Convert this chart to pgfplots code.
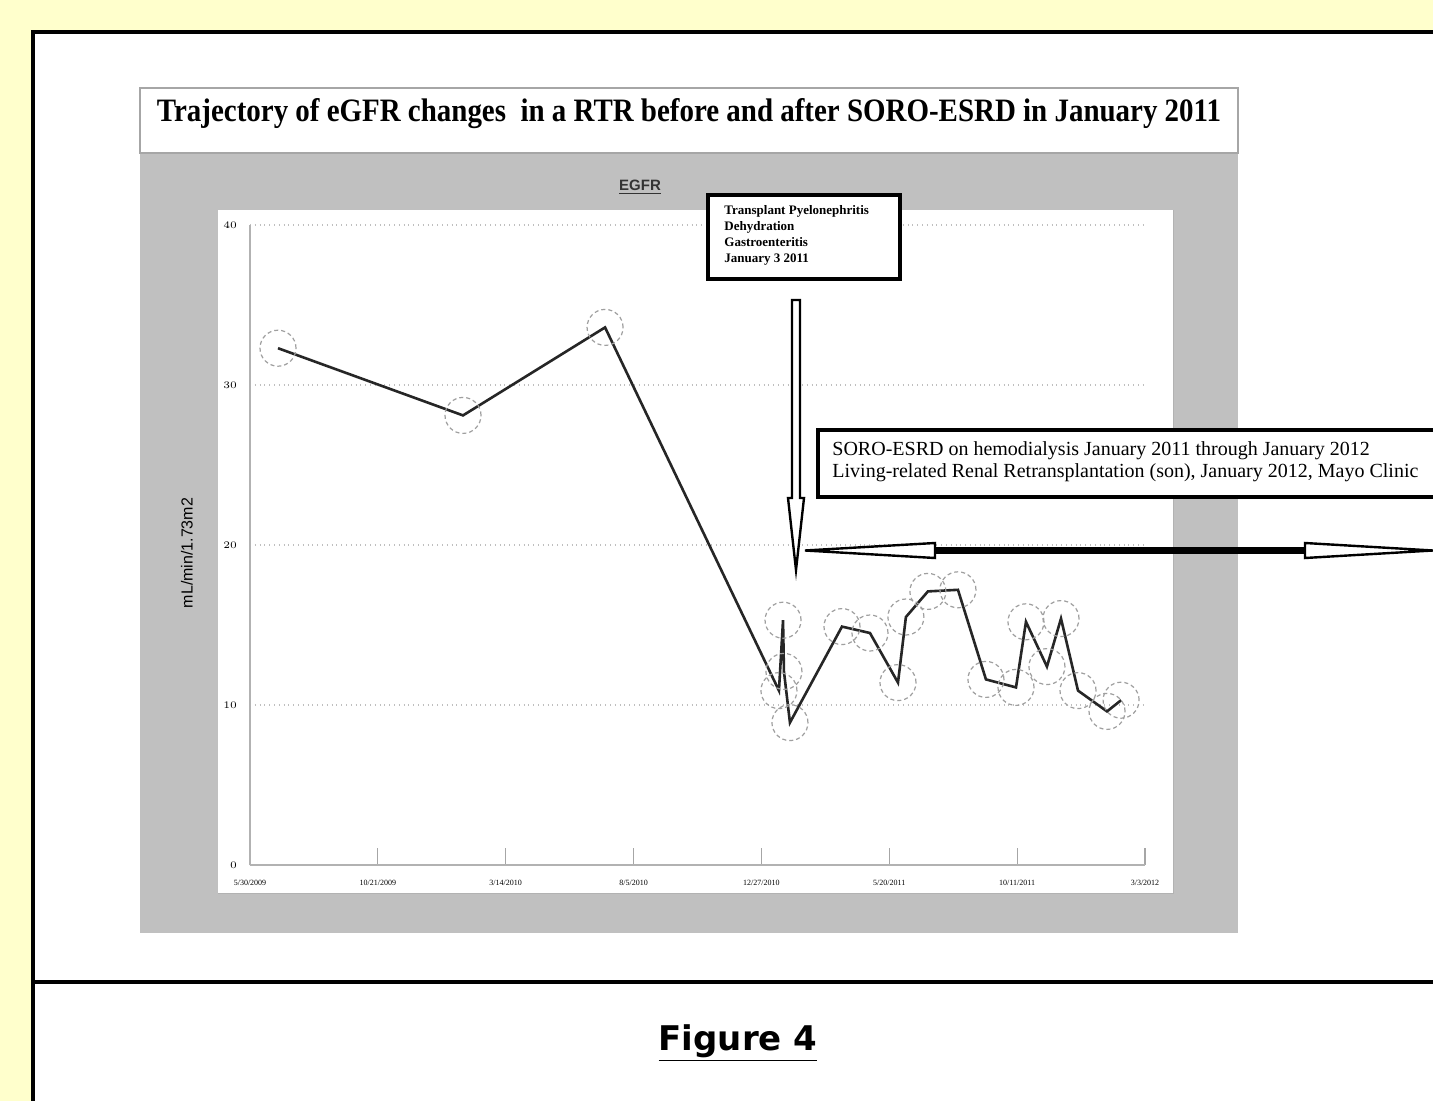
\documentclass[border=0pt]{standalone}
\usepackage{pgfplots}
\pgfplotsset{compat=1.18}
\usepackage{fontspec}
\setmainfont{Liberation Serif}
\newfontfamily\lsans{Liberation Sans}
\newfontfamily\dejavu{DejaVu Sans}
\definecolor{bgyellow}{HTML}{FFFFCC}
\definecolor{panelgray}{HTML}{C0C0C0}
\begin{document}
\begin{tikzpicture}[x=0.5pt,y=-0.5pt]
\useasboundingbox (0,0) rectangle (1433,1101);
\clip (0,0) rectangle (1433,1101);
% background
\fill[bgyellow] (0,0) rectangle (1433,1101);
\fill[white] (33,30) rectangle (1440,1110);
\draw[black,line width=2pt] (33,1110) -- (33,32) -- (1440,32);
\draw[black,line width=2pt] (33,982) -- (1440,982);
% panel
\fill[panelgray] (140,153) rectangle (1238,933);
\draw[gray!70,fill=white,line width=0.6pt] (140,88) rectangle (1238,153);
\node at (689,114) {\resizebox{532pt}{11.5pt}{\bfseries Trajectory of eGFR changes\ \ in a RTR before and after SORO-ESRD in January 2011}};
\fill[white] (218,210) rectangle (1173,893);
\draw[gray!60,line width=0.4pt] (218,893) -- (1173,893) -- (1173,210);
\node[font={\lsans\bfseries\fontsize{7.5}{8}\selectfont}, text=black!80] at (640,187) {\underline{EGFR}};
\coordinate (axorig) at (250,865);
% axis
\begin{axis}[
  at={(axorig)}, anchor=south west,
  scale only axis, width=447.5pt, height=320pt,
  xmin=0, xmax=7, ymin=0, ymax=40,
  axis x line=bottom, axis y line=left,
  axis line style={gray!60, line width=0.6pt, -},
  xtick={0,1,2,3,4,5,6,7},
  xticklabels={5/30/2009,10/21/2009,3/14/2010,8/5/2010,12/27/2010,5/20/2011,10/11/2011,3/3/2012},
  ytick={0,10,20,30,40},
  tick align=inside,
  major tick length=8.5pt,
  xtick style={draw=gray!70, line width=0.6pt},
  ytick style={draw=none},
  ymajorgrids,
  grid style={gray!50, dotted, line width=0.6pt},
  x tick label style={font={\fontsize{4}{4}\selectfont}, yshift=-4pt},
  y tick label style={font={\fontsize{4}{4}\selectfont}, xshift=-3pt},
  ylabel={mL/min/1.73m2},
  ylabel style={font={\lsans\fontsize{8}{8}\selectfont}, at={(axis description cs:-0.0704,0.4875)}, anchor=center},
  clip=false,
]
\addplot[black!85, line width=1.3pt,
  mark=o, mark size=9pt,
  mark options={solid, gray!75, line width=0.6pt, dash pattern=on 2pt off 1.5pt}]
coordinates {
(0.219,32.3)
(1.666,28.1)
(2.777,33.6)
(4.137,10.9)
(4.169,15.3)
(4.176,12.1)
(4.223,8.9)
(4.630,14.9)
(4.849,14.5)
(5.068,11.4)
(5.130,15.5)
(5.302,17.1)
(5.537,17.2)
(5.756,11.6)
(5.991,11.1)
(6.069,15.2)
(6.233,12.4)
(6.343,15.4)
(6.476,10.9)
(6.703,9.6)
(6.813,10.3)
};
\end{axis}
% annotation box 1
\draw[black,line width=1.6pt,fill=white] (708,195) rectangle (900,279);
\node[anchor=north west, align=left, inner sep=0pt, font={\bfseries\fontsize{6.5}{8}\selectfont}] at (724,205)
 {Transplant Pyelonephritis\\Dehydration\\Gastroenteritis\\January 3 2011};
% vertical hollow arrow
\draw[black,line width=1.2pt,fill=white,line join=miter]
 (792,300) -- (800,300) -- (800,498) -- (804,498) -- (796,570) -- (788,498) -- (792,498) -- cycle;
% annotation box 2
\draw[black,line width=1.8pt,fill=white] (818,430) rectangle (1445,497);
\node[anchor=north west, align=left, inner sep=0pt, font={\fontsize{10}{11}\selectfont}] at (832,441)
 {SORO-ESRD on hemodialysis January 2011 through January 2012\\Living-related Renal Retransplantation (son), January 2012, Mayo Clinic};
% horizontal double arrow
\fill[black] (930,547) rectangle (1310,554);
\draw[black,line width=1.2pt,fill=white,line join=miter]
 (805,550.5) -- (935,543) -- (935,558) -- cycle;
\draw[black,line width=1.2pt,fill=white,line join=miter]
 (1433,550.5) -- (1305,543) -- (1305,558) -- cycle;
% caption
\node[font={\dejavu\bfseries\fontsize{17}{17}\selectfont}] at (738,1043) {\underline{Figure 4}};
\end{tikzpicture}
\end{document}
